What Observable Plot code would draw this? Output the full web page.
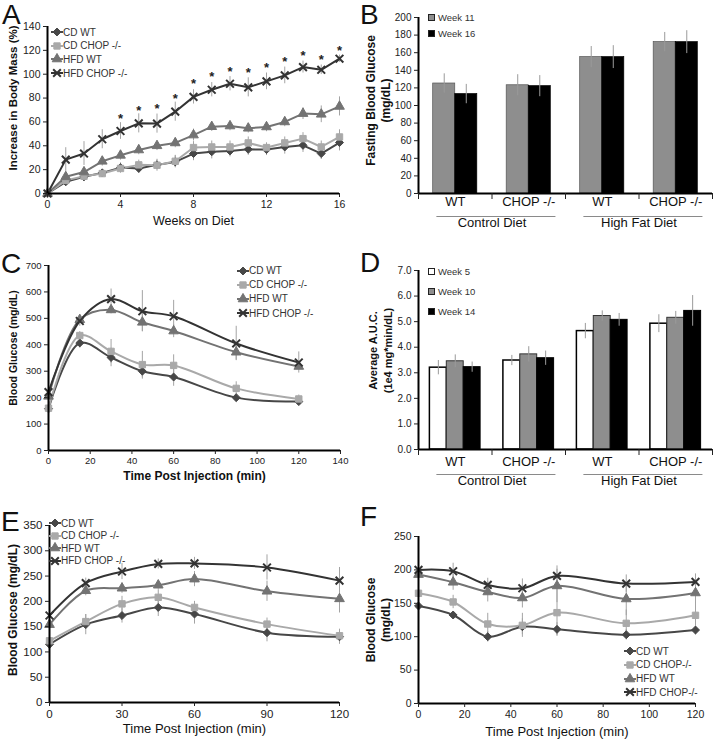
<!DOCTYPE html>
<html><head><meta charset="utf-8">
<script src="https://cdn.jsdelivr.net/npm/d3@7"></script>
<script src="https://cdn.jsdelivr.net/npm/@observablehq/plot@0.6"></script>
<style>
body{margin:0;background:#fff;}
#fig{position:relative;width:713px;height:741px;overflow:hidden;background:#fff;font-family:"Liberation Sans",Arial,Helvetica,sans-serif;}
.letter{position:absolute;font-size:28px;line-height:28px;color:#111;}
</style></head><body><div id="fig"></div>
<script>
// ---------- shared series ----------
const seriesNames = ["CD WT", "CD CHOP -/-", "HFD WT", "HFD CHOP -/-"];
const seriesColors = ["#474747", "#a9a9a9", "#737373", "#333333"];
const seriesSymbols = ["diamond2", "square", "triangle", "times"];

// ---------- Panel A: increase in body mass ----------
const aWeeks = [0,1,2,3,4,5,6,7,8,9,10,11,12,13,14,15,16];
const aCDWT      = [0, 9.8, 14, 17.3, 21.7, 21, 24, 26.5, 33.5, 35, 35.7, 37, 36.8, 39, 40.4, 33.5, 42.7];
const aCDWTErr   = [0, 3, 4, 3, 4, 4, 4, 5, 6, 6, 5, 5, 5, 6, 6, 5, 7];
const aCDCHOP    = [0, 11, 14.5, 16.7, 21, 24, 23.7, 27, 38.5, 39, 39, 42.4, 38.5, 42.4, 46, 39, 47.4];
const aCDCHOPErr = [0, 3, 4, 3, 4, 4, 5, 5, 5, 5, 5, 5, 4, 5, 5, 5, 6];
const aHFDWT     = [0, 14, 18, 27, 32, 36.5, 40, 42.4, 49, 56, 56.6, 54.7, 55.8, 60, 67, 66.4, 73];
const aHFDWTErr  = [0, 3, 4, 4, 4, 4, 4, 4, 5, 4, 4, 4, 4, 4, 5, 7, 8];
const aHFDCHOP   = [0, 28.4, 33.5, 45.5, 52.4, 58.8, 58.6, 68.6, 81, 87, 92, 89, 94, 99, 106, 103.7, 113];
const aHFDCHOPErr= [0, 10, 10, 8, 7, 8, 8, 8, 6, 6, 6, 8, 7, 7, 5, 4, 3];
const aStarWeeks = [4,5,6,7,8,9,10,11,12,13,14,15,16];
const aStarY     = [66, 73, 74.5, 83, 95, 101, 105, 104.5, 109, 113.5, 119, 115, 123];

// ---------- Panel B: fasting blood glucose ----------
const barCategories = ["WT", "CHOP -/-", "WT", "CHOP -/-"];
const dietGroups = ["Control Diet", "High Fat Diet"];
const bSeries = ["Week 11", "Week 16"];
const bWeek11 = [125, 123, 155, 172];
const bWeek11Err = [11, 12, 12, 11];
const bWeek16 = [113, 122, 155, 172];
const bWeek16Err = [11, 12, 13, 13];

// ---------- Panel C: GTT ----------
const gttTimes = [0, 15, 30, 45, 60, 90, 120];
const cCDWT = [158, 407, 352, 300, 278, 200, 185];
const cCDWTErr = [5, 20, 35, 30, 35, 10, 10];
const cCDCHOP = [160, 435, 375, 325, 322, 235, 195];
const cCDCHOPErr = [10, 15, 45, 50, 40, 25, 15];
const cHFDWT = [205, 495, 532, 485, 452, 372, 318];
const cHFDWTErr = [10, 15, 15, 35, 25, 30, 10];
const cHFDCHOP = [221, 490, 573, 527, 508, 405, 333];
const cHFDCHOPErr = [10, 20, 38, 78, 60, 65, 40];

// ---------- Panel D: AUC ----------
const dSeries = ["Week 5", "Week 10", "Week 14"];
const dWeek5 = [3.2, 3.48, 4.63, 4.92];
const dWeek5Err = [0.28, 0.2, 0.3, 0.35];
const dWeek10 = [3.45, 3.72, 5.22, 5.15];
const dWeek10Err = [0.25, 0.3, 0.2, 0.25];
const dWeek14 = [3.22, 3.57, 5.07, 5.42];
const dWeek14Err = [0.2, 0.28, 0.25, 0.6];

// ---------- Panel E ----------
const eTimes = [0, 15, 30, 45, 60, 90, 120];
const eCDWT = [115, 154, 172, 188, 175, 138, 130];
const eCDWTErr = [5, 20, 15, 18, 20, 18, 15];
const eCDCHOP = [122, 160, 195, 208, 188, 155, 132];
const eCDCHOPErr = [5, 14, 15, 15, 12, 12, 10];
const eHFDWT = [154, 221, 226, 232, 244, 220, 205];
const eHFDWTErr = [5, 10, 10, 8, 15, 20, 28];
const eHFDCHOP = [172, 236, 259, 274, 275, 267, 241];
const eHFDCHOPErr = [5, 10, 16, 10, 12, 25, 26];

// ---------- Panel F ----------
const fTimes = [0, 15, 30, 45, 60, 90, 120];
const fCDWT = [146, 132.5, 100, 115, 111, 103, 110];
const fCDWTErr = [5, 5, 8, 12, 10, 8, 8];
const fCDCHOP = [165, 152, 119, 117, 136, 120, 132];
const fCDCHOPErr = [8, 10, 16, 18, 35, 20, 25];
const fHFDWT = [193, 181.5, 167, 158, 176, 156.5, 165.5];
const fHFDWTErr = [8, 12, 15, 15, 25, 25, 15];
const fHFDCHOP = [200, 198, 177.5, 172.5, 191, 179.5, 182];
const fHFDCHOPErr = [8, 12, 10, 14, 15, 13, 12];

// =================================================================
const FONT = "'Liberation Sans', Arial, Helvetica, sans-serif";
const fig = document.getElementById("fig");
function place(node, left, top) {
  node.style.position = "absolute";
  node.style.left = left + "px";
  node.style.top = top + "px";
  fig.appendChild(node);
}
const d3Symbols = {diamond2: d3.symbolDiamond2, square: d3.symbolSquare, triangle: d3.symbolTriangle, times: d3.symbolTimes};

function yTitleMark(o) {
  return Plot.text([o.yTitle], {frameAnchor: "left", textAnchor: "middle", lineAnchor: "middle", rotate: -90, dx: o.yTitleDx, dy: o.yTitleDy, fontSize: o.yTitleSize, fontWeight: "bold", lineHeight: 15 / o.yTitleSize, fill: "#111"});
}

function linePanel(o) {
  const rows = [];
  o.series.forEach((s, k) => s.y.forEach((v, i) => rows.push({series: seriesNames[k], x: o.xs[i], y: v, e: s.e[i]})));
  const filled = rows.filter(d => d.series !== seriesNames[3]);
  const crosses = rows.filter(d => d.series === seriesNames[3]);
  const plot = Plot.plot({
    width: o.width, height: o.height,
    marginTop: o.m[0], marginRight: o.m[1], marginBottom: o.m[2], marginLeft: o.m[3],
    x: {domain: o.xDomain}, y: {domain: o.yDomain},
    color: {domain: seriesNames, range: seriesColors},
    symbol: {domain: seriesNames, range: seriesSymbols},
    style: {fontFamily: FONT, fontSize: o.fontSize + "px", color: "#222", background: "transparent", overflow: "visible"},
    marks: [
      Plot.ruleX(rows, {x: "x", y1: d => d.y - d.e, y2: d => d.y + d.e, stroke: "#a3a3a3", strokeWidth: 1}),
      Plot.line(rows, {x: "x", y: "y", z: "series", stroke: "series", strokeWidth: 2, curve: o.curve}),
      Plot.dot(filled, {x: "x", y: "y", symbol: "series", fill: "series", stroke: "series", r: 3.6, strokeWidth: 1}),
      Plot.dot(crosses, {x: "x", y: "y", symbol: "series", stroke: "series", r: 3.6, strokeWidth: 2}),
      Plot.ruleX([o.xDomain[0]], {stroke: "#000", strokeWidth: 2}),
      Plot.ruleY([o.yDomain[0]], {stroke: "#000", strokeWidth: 2}),
      Plot.axisX({ticks: o.xTicks, tickSize: 4, tickPadding: 3, label: null, fontSize: o.fontSize}),
      Plot.axisY({ticks: o.yTicks, tickSize: 4, tickPadding: 3, label: null, fontSize: o.fontSize}),
      Plot.text([o.xTitle], {frameAnchor: "bottom", textAnchor: "middle", dy: o.xTitleDy, fontSize: o.xTitleSize, fontWeight: o.xTitleBold ? "bold" : "normal", fill: "#111"}),
      yTitleMark(o),
      ...(o.extra || [])
    ]
  });
  place(plot, o.left, o.top);
}

function barPanel(o) {
  const bw = o.groupWidth / o.series.length;
  const rows = [];
  o.series.forEach((s, j) => s.values.forEach((v, i) => {
    const x1 = i + (1 - o.groupWidth) / 2 + j * bw;
    rows.push({series: s.name, cat: i, x1, x2: x1 + bw, y: v, e: s.errs[i]});
  }));
  const cats = barCategories.map((c, i) => ({x: i + 0.5, label: c}));
  const groups = dietGroups.map((g, k) => ({name: g, start: 2 * k, end: 2 * k + 2}));
  const plot = Plot.plot({
    width: o.width, height: o.height,
    marginTop: o.m[0], marginRight: o.m[1], marginBottom: o.m[2], marginLeft: o.m[3],
    x: {domain: [0, barCategories.length]}, y: {domain: o.yDomain},
    style: {fontFamily: FONT, fontSize: o.fontSize + "px", color: "#222", background: "transparent", overflow: "visible"},
    marks: [
      ...o.series.map(s => Plot.rect(rows.filter(d => d.series === s.name), {x1: "x1", x2: "x2", y1: () => 0, y2: "y", fill: s.fill, stroke: s.stroke, strokeWidth: s.sw})),
      Plot.ruleX(rows, {x: d => (d.x1 + d.x2) / 2, y1: d => d.y - d.e, y2: d => d.y + d.e, stroke: "#9a9a9a", strokeWidth: 1}),
      Plot.ruleX([0], {stroke: "#000", strokeWidth: 2}),
      Plot.ruleY([o.yDomain[0]], {stroke: "#000", strokeWidth: 2}),
      Plot.axisX({ticks: d3.range(barCategories.length + 1), tickSize: 6, tickFormat: () => "", label: null}),
      Plot.axisY({ticks: o.yTicks, tickSize: 4, tickPadding: 3, label: null, fontSize: o.fontSize}),
      Plot.text(cats, {x: "x", text: "label", frameAnchor: "bottom", textAnchor: "middle", dy: o.catDy, fontSize: 13, fill: "#111"}),
      Plot.ruleY(groups, {x1: d => d.start + 0.25, x2: d => d.end - 0.13, y: () => o.yDomain[0], dy: o.lineDy, stroke: "#8a8a8a", strokeWidth: 1}),
      Plot.text(groups, {x: d => (d.start + d.end) / 2, text: "name", frameAnchor: "bottom", textAnchor: "middle", dy: o.groupDy, fontSize: 13, fill: "#111"}),
      yTitleMark(o)
    ]
  });
  place(plot, o.left, o.top);
}

function lineLegend(x, y, step, fontSize, labels) {
  labels.forEach((lab, k) => {
    const row = document.createElement("div");
    row.style.cssText = `height:14px;display:flex;align-items:center;white-space:nowrap;font-size:${fontSize}px;color:#333;font-family:${FONT}`;
    const svg = d3.create("svg").attr("width", 12).attr("height", 14).style("overflow", "visible");
    svg.append("line").attr("x1", 0).attr("x2", 12).attr("y1", 7).attr("y2", 7).attr("stroke", seriesColors[k]).attr("stroke-width", 2);
    const p = svg.append("path").attr("transform", "translate(6,7)").attr("d", d3.symbol(d3Symbols[seriesSymbols[k]], 40)());
    if (k === 3) p.attr("fill", "none").attr("stroke", seriesColors[k]).attr("stroke-width", 2);
    else p.attr("fill", seriesColors[k]).attr("stroke", seriesColors[k]);
    row.appendChild(svg.node());
    const t = document.createElement("span");
    t.textContent = lab;
    row.appendChild(t);
    place(row, x - 6, y + k * step - 7);
  });
}

function barLegend(x, y, step, fontSize, labels, fills) {
  labels.forEach((lab, k) => {
    const row = document.createElement("div");
    row.style.cssText = `height:12px;display:flex;align-items:center;white-space:nowrap;font-size:${fontSize}px;color:#333;font-family:${FONT}`;
    const sw = document.createElement("span");
    sw.style.cssText = `display:inline-block;width:5px;height:5px;border:1px solid #222;background:${fills[k]};margin-right:3px;`;
    row.appendChild(sw);
    const t = document.createElement("span");
    t.textContent = lab;
    row.appendChild(t);
    place(row, x, y + k * step - 6);
  });
}

function letter(ch, left, top) {
  const d = document.createElement("div");
  d.className = "letter";
  d.textContent = ch;
  place(d, left, top);
}

// ---------- Panel A ----------
linePanel({
  left: 0, top: 0, width: 352, height: 235, m: [26, 13, 42, 47],
  xs: aWeeks, xDomain: [0, 16], yDomain: [0, 140],
  xTicks: [0, 4, 8, 12, 16], yTicks: d3.range(0, 141, 20), fontSize: 10.5,
  series: [{y: aCDWT, e: aCDWTErr}, {y: aCDCHOP, e: aCDCHOPErr}, {y: aHFDWT, e: aHFDWTErr}, {y: aHFDCHOP, e: aHFDCHOPErr}],
  curve: "linear",
  xTitle: "Weeks on Diet", xTitleBold: false, xTitleSize: 12.5, xTitleDy: 31,
  yTitle: "Increase in Body Mass (%)", yTitleSize: 11.5, yTitleDx: -35, yTitleDy: -12,
  extra: [Plot.text(aStarWeeks.map((w, i) => ({x: w, y: aStarY[i]})), {x: "x", y: "y", text: () => "*", fontSize: 13, fontWeight: "bold", dy: 4, fill: "#222"})]
});
lineLegend(57, 32, 13.7, 10, seriesNames);

// ---------- Panel B ----------
barPanel({
  left: 360, top: 0, width: 353, height: 235, m: [17, 1, 42, 58],
  yDomain: [0, 200], yTicks: d3.range(0, 201, 20), fontSize: 10,
  groupWidth: 0.6,
  series: [
    {name: bSeries[0], values: bWeek11, errs: bWeek11Err, fill: "#8e8e8e", stroke: "#555", sw: 0.7},
    {name: bSeries[1], values: bWeek16, errs: bWeek16Err, fill: "#000", stroke: "#000", sw: 0.7}
  ],
  catDy: 12, lineDy: 23, groupDy: 33,
  yTitle: "Fasting Blood Glucose\n(mg/dL)", yTitleSize: 12, yTitleDx: -40.5, yTitleDy: -5
});
barLegend(428, 17, 16, 9.5, bSeries, ["#8e8e8e", "#000"]);

// ---------- Panel C ----------
linePanel({
  left: 0, top: 235, width: 352, height: 255, m: [30, 12, 40, 48],
  xs: gttTimes, xDomain: [0, 140], yDomain: [0, 700],
  xTicks: d3.range(0, 141, 20), yTicks: d3.range(0, 701, 100), fontSize: 9.5,
  series: [{y: cCDWT, e: cCDWTErr}, {y: cCDCHOP, e: cCDCHOPErr}, {y: cHFDWT, e: cHFDWTErr}, {y: cHFDCHOP, e: cHFDCHOPErr}],
  curve: "catmull-rom",
  xTitle: "Time Post Injection (min)", xTitleBold: true, xTitleSize: 12, xTitleDy: 29,
  yTitle: "Blood Glucose (mg/dL)", yTitleSize: 10.5, yTitleDx: -36, yTitleDy: -10
});
lineLegend(243, 270.7, 14.1, 10, seriesNames);

// ---------- Panel D ----------
barPanel({
  left: 360, top: 235, width: 353, height: 260, m: [35, 1, 46, 58],
  yDomain: [0, 7], yTicks: d3.range(0, 8, 1), fontSize: 10,
  groupWidth: 0.69,
  series: [
    {name: dSeries[0], values: dWeek5, errs: dWeek5Err, fill: "#fff", stroke: "#000", sw: 1.5},
    {name: dSeries[1], values: dWeek10, errs: dWeek10Err, fill: "#8e8e8e", stroke: "#333", sw: 1},
    {name: dSeries[2], values: dWeek14, errs: dWeek14Err, fill: "#000", stroke: "#000", sw: 1}
  ],
  catDy: 16, lineDy: 25, groupDy: 35,
  yTitle: "Average A.U.C.\n(1e4 mg*min/dL)", yTitleSize: 11, yTitleDx: -38.5, yTitleDy: -9.5
});
barLegend(428, 271.7, 20, 9.5, dSeries, ["#fff", "#8e8e8e", "#000"]);

// ---------- Panel E ----------
linePanel({
  left: 0, top: 495, width: 352, height: 246, m: [30, 13, 39, 49],
  xs: eTimes, xDomain: [0, 120], yDomain: [0, 350],
  xTicks: [0, 30, 60, 90, 120], yTicks: d3.range(0, 351, 50), fontSize: 11.5,
  series: [{y: eCDWT, e: eCDWTErr}, {y: eCDCHOP, e: eCDCHOPErr}, {y: eHFDWT, e: eHFDWTErr}, {y: eHFDCHOP, e: eHFDCHOPErr}],
  curve: "catmull-rom",
  xTitle: "Time Post Injection (min)", xTitleBold: false, xTitleSize: 13, xTitleDy: 30,
  yTitle: "Blood Glucose (mg/dL)", yTitleSize: 12, yTitleDx: -37, yTitleDy: -4
});
lineLegend(55, 523.3, 12.5, 10, seriesNames);

// ---------- Panel F ----------
linePanel({
  left: 360, top: 495, width: 353, height: 246, m: [41, 18, 38, 58],
  xs: fTimes, xDomain: [0, 120], yDomain: [0, 250],
  xTicks: d3.range(0, 121, 20), yTicks: d3.range(0, 251, 50), fontSize: 10.5,
  series: [{y: fCDWT, e: fCDWTErr}, {y: fCDCHOP, e: fCDCHOPErr}, {y: fHFDWT, e: fHFDWTErr}, {y: fHFDCHOP, e: fHFDCHOPErr}],
  curve: "catmull-rom",
  xTitle: "Time Post Injection (min)", xTitleBold: false, xTitleSize: 13, xTitleDy: 32,
  yTitle: "Blood Glucose\n(mg/dL)", yTitleSize: 12, yTitleDx: -40.5, yTitleDy: 0
});
lineLegend(630, 651, 13.8, 10, ["CD WT", "CD CHOP-/-", "HFD WT", "HFD CHOP-/-"]);

// ---------- panel letters ----------
letter("A", 2, 1);
letter("B", 360, 1);
letter("C", 1, 250);
letter("D", 360, 249);
letter("E", 1, 508);
letter("F", 360, 503);
</script></body></html>
